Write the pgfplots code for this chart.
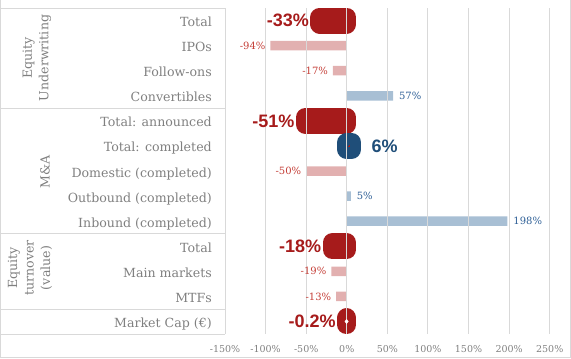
\documentclass[border=0pt]{standalone}
\usepackage{pgfplots}
\pgfplotsset{compat=1.18}
\usepackage{fontspec}
\setmainfont{DejaVu Serif}
\newfontfamily\lsans{Liberation Sans}
\definecolor{bigred}{RGB}{166,27,27}
\definecolor{bigblue}{RGB}{31,78,121}
\definecolor{lightred}{RGB}{226,176,176}
\definecolor{lightblue}{RGB}{168,191,212}
\definecolor{smallred}{RGB}{196,62,55}
\definecolor{smallblue}{RGB}{46,95,150}
\definecolor{txtgray}{RGB}{128,128,128}
\definecolor{linegray}{RGB}{217,217,217}
\begin{document}
\begin{tikzpicture}[x=1pt,y=1pt]
\useasboundingbox (0,-25) rectangle (571,334);
\draw[linegray, line width=0.8pt] (0.5,-23.5) rectangle (570.5,334.5);
\begin{axis}[
  at={(225pt,0pt)}, anchor=south west,
  scale only axis, width=345pt, height=326pt,
  xmin=-150, xmax=275, ymin=-0.5, ymax=12.5, y dir=reverse,
  axis line style={draw=none},
  major tick length=0pt,
  xtick={-150,-100,...,250},
  xticklabels={-150\%,-100\%,-50\%,0\%,50\%,100\%,150\%,200\%,250\%},
  xticklabel style={anchor=base, inner sep=0pt, yshift=-18pt, font=\fontsize{9.5}{11}\selectfont, text=txtgray},
  ytick={0,...,12},
  yticklabels={Total,IPOs,Follow-ons,Convertibles,Total: announced,Total: completed,Domestic (completed),Outbound (completed),Inbound (completed),Total,Main markets,MTFs,Market Cap (€)},
  yticklabel style={anchor=base east, inner sep=0pt, xshift=-13pt, yshift=-6pt, font=\fontsize{12.6}{15}\selectfont, text=txtgray},
  xmajorgrids, grid style={linegray, line width=0.9pt},
  axis on top, clip=false,
  point meta=explicit symbolic,
]
% light negative bars
\addplot[xbar, bar shift=0pt, bar width=9.5pt, fill=lightred, draw=none,
  nodes near coords,
  every node near coord/.append style={anchor=east, xshift=-5pt, inner sep=0pt, outer sep=0pt, font=\fontsize{10}{12}\selectfont, text=smallred}]
  coordinates {(-94,1) [-94\%] (-17,2) [-17\%] (-50,6) [-50\%] (-19,10) [-19\%] (-13,11) [-13\%]};
% light positive bars
\addplot[xbar, bar shift=0pt, bar width=9.5pt, fill=lightblue, draw=none,
  nodes near coords,
  every node near coord/.append style={anchor=west, xshift=6pt, inner sep=0pt, outer sep=0pt, font=\fontsize{10}{12}\selectfont, text=smallblue}]
  coordinates {(57,3) [57\%] (5,7) [5\%] (198,8) [198\%]};
% big negative bars
\addplot[xbar, bar shift=0pt, bar width=7pt, fill=bigred, draw=bigred, line width=19pt, line join=round,
  nodes near coords,
  every node near coord/.append style={anchor=east, xshift=-11pt, inner sep=0pt, outer sep=0pt, font=\lsans\bfseries\fontsize{18}{20}\selectfont, text=bigred}]
  coordinates {(-33,0) [-33\%] (-51,4) [-51\%] (-18,9) [-18\%] (-0.2,12) [-0.2\%]};
% big positive bar
\addplot[xbar, bar shift=0pt, bar width=7pt, fill=bigblue, draw=bigblue, line width=19pt, line join=round,
  nodes near coords,
  every node near coord/.append style={anchor=west, xshift=20pt, inner sep=0pt, outer sep=0pt, font=\lsans\bfseries\fontsize{18}{20}\selectfont, text=bigblue}]
  coordinates {(6,5) [6\%]};
% small markers
\addplot[only marks, mark=diamond*, mark size=2.2pt, white] coordinates {(-0.2,12)};
\addplot[only marks, mark=+, mark size=1.2pt, bigred, line width=0.5pt] coordinates {(2.5,5)};
% table lines
\draw[linegray, line width=0.8pt] (axis cs:-150,-0.5) -- ++(-225pt,0pt);
\draw[linegray, line width=0.8pt] (axis cs:-150,3.5) -- ++(-225pt,0pt);
\draw[linegray, line width=0.8pt] (axis cs:-150,8.5) -- ++(-225pt,0pt);
\draw[linegray, line width=0.8pt] (axis cs:-150,11.5) -- ++(-225pt,0pt);
\draw[linegray, line width=0.8pt] (axis cs:-150,12.5) -- ++(-225pt,0pt);
\draw[linegray, line width=0.8pt] (axis cs:-150,-0.5) -- (axis cs:-150,12.5);
\end{axis}
\node[rotate=90, align=center, text=txtgray, font=\fontsize{12.6}{16.5}\selectfont] at (37,276) {Equity\\Underwriting};
\node[rotate=90, align=center, text=txtgray, font=\fontsize{12.6}{16.5}\selectfont] at (45,162) {M\&A};
\node[rotate=90, align=center, text=txtgray, font=\fontsize{12.6}{16.5}\selectfont] at (30,66) {Equity\\turnover\\(value)};
\end{tikzpicture}
\end{document}
